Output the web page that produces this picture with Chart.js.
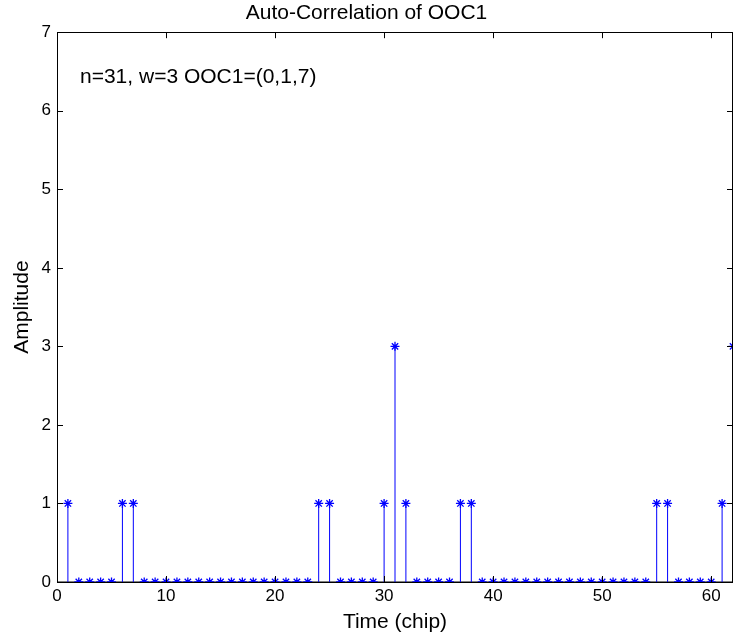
<!DOCTYPE html>
<html>
<head>
<meta charset="utf-8">
<script src="https://cdn.jsdelivr.net/npm/chart.js@4"></script>
<style>
  html, body { margin: 0; padding: 0; background: #fff; }
  #wrap { width: 733px; height: 639px; }
</style>
</head>
<body>
<div id="wrap"><canvas id="acChart" width="733" height="639"></canvas></div>
<script>
// Dados
const chipTimes = [];
for (let t = 1; t <= 62; t++) chipTimes.push(t);
const oneAt = [1, 6, 7, 24, 25, 30, 32, 37, 38, 55, 56, 61];
const threeAt = [31, 62];
const amplitudes = chipTimes.map(t => threeAt.includes(t) ? 3 : (oneAt.includes(t) ? 1 : 0));
const xTicks = [0, 10, 20, 30, 40, 50, 60];
const yTicks = [0, 1, 2, 3, 4, 5, 6, 7];
const baseLine = [0, 62];
const noteText = 'n=31, w=3 OOC1=(0,1,7)';

const FONT = "'Liberation Sans', Arial, sans-serif";
const BLUE = '#0000ff';

// hastes: segmentos verticais separados por lacunas
const stemPoints = [];
chipTimes.forEach((t, i) => {
    stemPoints.push({ x: t, y: 0 });
    stemPoints.push({ x: t, y: amplitudes[i] });
    stemPoints.push({ x: t, y: null });
});

// Moldura e marcas internas estilo MATLAB
const matlabBox = {
    id: 'matlabBox',
    afterDatasetsDraw(chart) {
        const { ctx, chartArea: a, scales } = chart;
        ctx.save();
        ctx.strokeStyle = '#000';
        ctx.lineWidth = 1;
        ctx.beginPath();
        xTicks.forEach(v => {
            const px = Math.round(scales.x.getPixelForValue(v)) + 0.5;
            ctx.moveTo(px, a.bottom); ctx.lineTo(px, a.bottom - 6);
            ctx.moveTo(px, a.top); ctx.lineTo(px, a.top + 6);
        });
        yTicks.forEach(v => {
            const py = Math.round(scales.y.getPixelForValue(v)) + 0.5;
            ctx.moveTo(a.left, py); ctx.lineTo(a.left + 6, py);
            ctx.moveTo(a.right, py); ctx.lineTo(a.right - 6, py);
        });
        ctx.stroke();
        ctx.strokeRect(Math.round(a.left) + 0.5, Math.round(a.top) + 0.5,
            Math.round(a.right - a.left) - 1, Math.round(a.bottom - a.top));
        // texto da anotação
        ctx.fillStyle = '#000';
        ctx.font = '21px ' + FONT;
        ctx.textBaseline = 'alphabetic';
        ctx.fillText(noteText, a.left + 23, a.top + 51);
        ctx.restore();
    }
};

new Chart(document.getElementById('acChart'), {
    type: 'scatter',
    data: {
        datasets: [
            {
                type: 'line',
                data: baseLine.map(x => ({ x: x, y: 0 })),
                borderColor: '#808080',
                borderWidth: 2,
                pointRadius: 0,
                order: 3
            },
            {
                type: 'line',
                data: stemPoints,
                borderColor: BLUE,
                borderWidth: 1,
                pointRadius: 0,
                spanGaps: false,
                order: 2
            },
            {
                data: chipTimes.map((t, i) => ({ x: t, y: amplitudes[i] })),
                pointStyle: 'star',
                pointRadius: 4.5,
                borderColor: BLUE,
                backgroundColor: BLUE,
                pointBorderWidth: 1.3,
                showLine: false,
                order: 1
            }
        ]
    },
    options: {
        responsive: false,
        animation: false,
        events: [],
        layout: { padding: 0, autoPadding: false },
        plugins: {
            legend: { display: false },
            tooltip: { enabled: false },
            title: {
                display: true,
                text: 'Auto-Correlation of OOC1',
                color: '#000',
                font: { family: FONT, size: 21, weight: 'normal', lineHeight: 1.2 },
                padding: { top: 1, bottom: 6 }
            }
        },
        scales: {
            x: {
                type: 'linear',
                min: 0,
                max: 62,
                afterBuildTicks: s => { s.ticks = xTicks.map(v => ({ value: v })); },
                afterFit: s => { s.height = 57; s.paddingLeft = 0; s.paddingRight = 0; },
                grid: { display: false, drawTicks: false },
                border: { display: false },
                ticks: {
                    color: '#000',
                    font: { family: FONT, size: 17 },
                    padding: 4,
                    maxRotation: 0
                },
                title: {
                    display: true,
                    text: 'Time (chip)',
                    color: '#000',
                    font: { family: FONT, size: 21 },
                    padding: { top: 0 }
                }
            },
            y: {
                min: 0,
                max: 7,
                afterBuildTicks: s => { s.ticks = yTicks.map(v => ({ value: v })); },
                afterFit: s => { s.width = 57; },
                grid: { display: false, drawTicks: false },
                border: { display: false },
                ticks: {
                    color: '#000',
                    font: { family: FONT, size: 17 },
                    padding: 6
                },
                title: {
                    display: true,
                    text: 'Amplitude',
                    color: '#000',
                    font: { family: FONT, size: 21 },
                    padding: { top: 10, bottom: 0 }
                }
            }
        }
    },
    plugins: [matlabBox]
});
</script>
</body>
</html>
